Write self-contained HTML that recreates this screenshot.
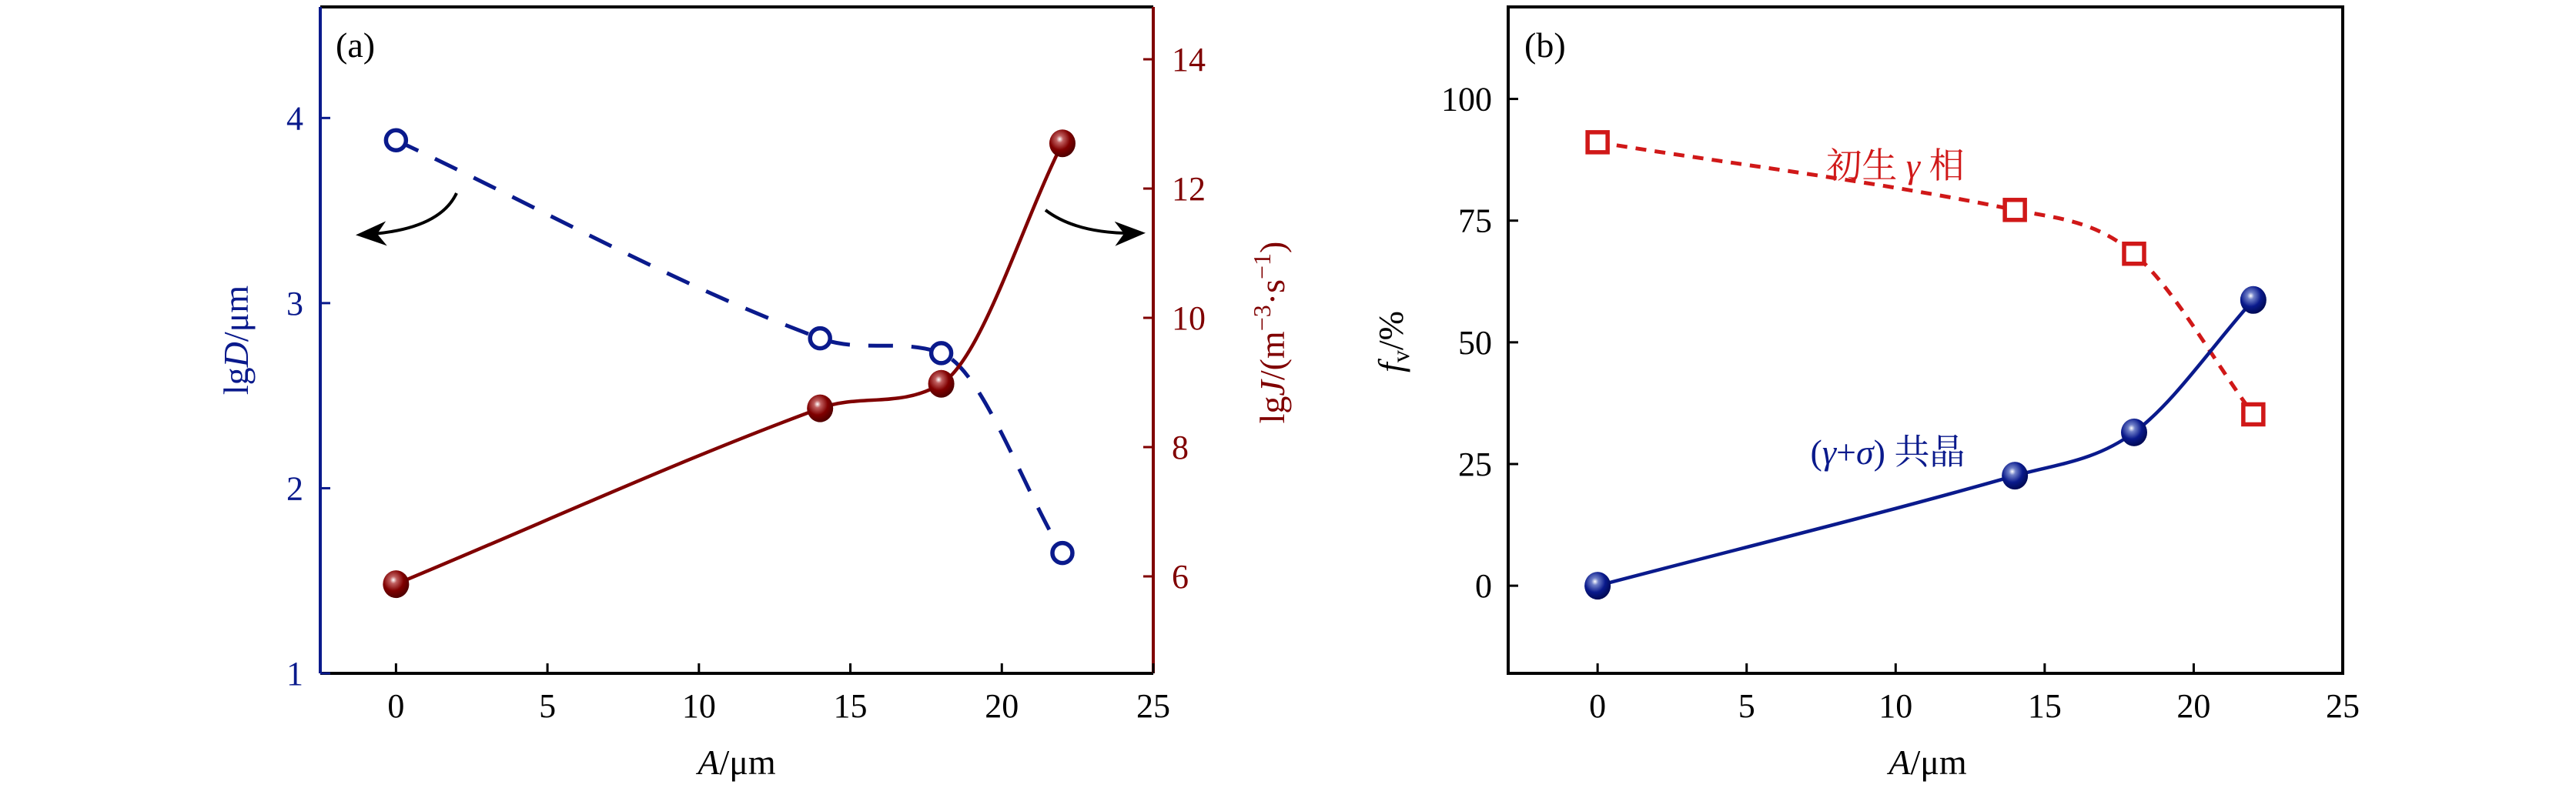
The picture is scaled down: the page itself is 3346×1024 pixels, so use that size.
<!DOCTYPE html>
<html><head><meta charset="utf-8"><style>
html,body{margin:0;padding:0;background:#fff;}
svg{display:block;font-family:"Liberation Serif","Noto Serif CJK SC",serif;}
</style></head><body>
<svg id="chart" width="3346" height="1024" viewBox="0 0 3346 1024" xmlns="http://www.w3.org/2000/svg">
<defs>
<radialGradient id="gRed" cx="0.4" cy="0.35" r="0.65"><stop offset="0" stop-color="#fff"/><stop offset="0.2" stop-color="#c06060"/><stop offset="0.6" stop-color="#800000"/><stop offset="1" stop-color="#500000"/></radialGradient>
<radialGradient id="gBlue" cx="0.4" cy="0.35" r="0.65"><stop offset="0" stop-color="#fff"/><stop offset="0.2" stop-color="#7080c8"/><stop offset="0.6" stop-color="#0a1a8c"/><stop offset="1" stop-color="#000a55"/></radialGradient>
<marker id="arr" markerWidth="10" markerHeight="8" refX="8" refY="4" orient="auto" markerUnits="strokeWidth"><path d="M0,0 L10,4 L0,8 L3,4 Z" fill="#000"/></marker>
</defs>
<g id="root"></g>
</svg>
<script>
const xValues = [0, 14, 18, 22];
const lgD = [3.88, 2.81, 2.73, 1.65];
const lgJ = [5.88, 8.6, 8.98, 12.7];
const primaryGamma = [91.1, 77.2, 68.2, 35.2];
const eutectic = [0, 22.6, 31.5, 58.7];
const xTicks = [0, 5, 10, 15, 20, 25];
const dTicks = [1, 2, 3, 4];
const jTicks = [6, 8, 10, 12, 14];
const fTicks = [0, 25, 50, 75, 100];

const NS = "http://www.w3.org/2000/svg";
const root = document.getElementById('root');
function el(tag, attrs, parent, text) {
  const e = document.createElementNS(NS, tag);
  for (const k in attrs) e.setAttribute(k, attrs[k]);
  if (text !== undefined) e.textContent = text;
  (parent || root).appendChild(e);
  return e;
}
function lin(d0, d1, r0, r1) { return v => r0 + (v - d0) * (r1 - r0) / (d1 - d0); }
// monotone Hermite spline with length-weighted tangents
function smoothPath(pts) {
  const n = pts.length, dx = [], s = [], m = [];
  for (let i = 0; i < n - 1; i++) { dx[i] = pts[i+1][0] - pts[i][0]; s[i] = (pts[i+1][1] - pts[i][1]) / dx[i]; }
  m[0] = s[0]; m[n-1] = s[n-2];
  for (let i = 1; i < n - 1; i++) {
    if (s[i-1] * s[i] <= 0) { m[i] = 0; continue; }
    let v = (dx[i-1]*s[i-1] + dx[i]*s[i]) / (dx[i-1] + dx[i]);
    const lim = 3 * Math.min(Math.abs(s[i-1]), Math.abs(s[i]));
    if (Math.abs(v) > lim) v = Math.sign(v) * lim;
    m[i] = v;
  }
  let d = `M${pts[0][0]},${pts[0][1]}`;
  for (let i = 0; i < n - 1; i++) {
    const h = dx[i] / 3;
    d += ` C${pts[i][0] + h},${pts[i][1] + m[i]*h} ${pts[i+1][0] - h},${pts[i+1][1] - m[i+1]*h} ${pts[i+1][0]},${pts[i+1][1]}`;
  }
  return d;
}
const BLUE = '#0a1a8c', DRED = '#800000', RED = '#d01818';
const FS = 44;

// ---------- Panel (a) ----------
const aL = 416, aR = 1498, aT = 9, aB = 875;
const xa = lin(-2.5, 25, aL, aR);
const yD = lin(1, 4.6, aB, aT);
const yJ = lin(4.5, 14.81, aB, aT);
const ga = el('g', {});


let l;
l = el('line', {x1: aL, y1: aT, x2: aR, y2: aT, stroke: '#000', 'stroke-width': 4}, ga);
l = el('line', {x1: aL, y1: aB, x2: aR, y2: aB, stroke: '#000', 'stroke-width': 4}, ga);
 
l = el('line', {x1: aL, y1: aT, x2: aL, y2: aB, stroke: BLUE, 'stroke-width': 4}, ga);
 
l = el('line', {x1: aR, y1: aT, x2: aR, y2: aB, stroke: DRED, 'stroke-width': 4}, ga);
 
xTicks.forEach(v => {
  el('line', {x1: xa(v), y1: aB, x2: xa(v), y2: aB - 13, stroke: '#000', 'stroke-width': 3}, ga);
  const t = el('text', {x: xa(v), y: 932, 'font-size': FS, 'text-anchor': 'middle', fill: '#000'}, ga, v);
   
});
dTicks.forEach(v => {
  el('line', {x1: aL, y1: yD(v), x2: aL + 13, y2: yD(v), stroke: BLUE, 'stroke-width': 3}, ga);
  const t = el('text', {x: 394, y: yD(v) + 15, 'font-size': FS, 'text-anchor': 'end', fill: BLUE}, ga, v);
   
});
jTicks.forEach(v => {
  el('line', {x1: aR, y1: yJ(v), x2: aR - 13, y2: yJ(v), stroke: DRED, 'stroke-width': 3}, ga);
  const t = el('text', {x: 1522, y: yJ(v) + 15, 'font-size': FS, 'text-anchor': 'start', fill: DRED}, ga, v);
   
});
let t;
t = el('text', {x: 957, y: 1006, 'font-size': 46, 'text-anchor': 'middle'}, ga);
t.innerHTML = '<tspan font-style="italic">A</tspan>/μm';
 
t = el('text', {x: 0, y: 0, 'font-size': 46, 'text-anchor': 'middle', fill: BLUE, transform: 'translate(322,442) rotate(-90)'}, ga);
t.innerHTML = 'lg<tspan font-style="italic">D</tspan>/μm';
 
t = el('text', {x: 0, y: 0, 'font-size': 46, 'text-anchor': 'middle', fill: DRED, transform: 'translate(1668,432) rotate(-90)'}, ga);
t.innerHTML = 'lg<tspan font-style="italic">J</tspan>/(m<tspan dy="-18" font-size="32">−3</tspan><tspan dy="18">·s</tspan><tspan dy="-18" font-size="32">−1</tspan><tspan dy="18">)</tspan>';
 
t = el('text', {x: 436, y: 74, 'font-size': 46}, ga, '(a)');
 
l = el('path', {d: 'M593,251 Q570,300 470,305', fill: 'none', stroke: '#000', 'stroke-width': 4, 'marker-end': 'url(#arr)'}, ga);
 
l = el('path', {d: 'M1358,273 Q1400,305 1480,303', fill: 'none', stroke: '#000', 'stroke-width': 4, 'marker-end': 'url(#arr)'}, ga);
 
const dPts = xValues.map((x, i) => [xa(x), yD(lgD[i])]);
l = el('path', {d: smoothPath(dPts), fill: 'none', stroke: BLUE, 'stroke-width': 5, 'stroke-dasharray': '32,24'}, ga);
 
const jPts = xValues.map((x, i) => [xa(x), yJ(lgJ[i])]);
l = el('path', {d: smoothPath(jPts), fill: 'none', stroke: DRED, 'stroke-width': 4.5}, ga);
 
dPts.forEach(p => {
  const c = el('circle', {cx: p[0], cy: p[1], r: 13, fill: '#fff', stroke: BLUE, 'stroke-width': 5.5}, ga);
   
});
jPts.forEach(p => {
  const c = el('ellipse', {cx: p[0], cy: p[1], rx: 17, ry: 18, fill: 'url(#gRed)'}, ga);
   
});

// ---------- Panel (b) ----------
const bL = 1959, bR = 3043, bT = 9, bB = 875;
const xb = lin(-3, 25, bL, bR);
const yF = lin(-18, 118.9, bB, bT);
const gb = el('g', {});


l = el('rect', {x: bL, y: bT, width: bR - bL, height: bB - bT, fill: 'none', stroke: '#000', 'stroke-width': 4}, gb);
 
xTicks.forEach(v => {
  if (v < 25) el('line', {x1: xb(v), y1: bB, x2: xb(v), y2: bB - 13, stroke: '#000', 'stroke-width': 3}, gb);
  const t = el('text', {x: xb(v), y: 932, 'font-size': FS, 'text-anchor': 'middle'}, gb, v);
   
});
fTicks.forEach(v => {
  el('line', {x1: bL, y1: yF(v), x2: bL + 13, y2: yF(v), stroke: '#000', 'stroke-width': 3}, gb);
  const t = el('text', {x: 1938, y: yF(v) + 15, 'font-size': FS, 'text-anchor': 'end'}, gb, v);
   
});
t = el('text', {x: 2504, y: 1006, 'font-size': 46, 'text-anchor': 'middle'}, gb);
t.innerHTML = '<tspan font-style="italic">A</tspan>/μm';
 
t = el('text', {x: 0, y: 0, 'font-size': 46, 'text-anchor': 'middle', transform: 'translate(1822,444) rotate(-90)'}, gb);
t.innerHTML = '<tspan font-style="italic">f</tspan><tspan font-size="32" dy="8">v</tspan><tspan dy="-8">/%</tspan>';
 
t = el('text', {x: 1980, y: 74, 'font-size': 46}, gb, '(b)');
 
const rPts = xValues.map((x, i) => [xb(x), yF(primaryGamma[i])]);
l = el('path', {d: smoothPath(rPts), fill: 'none', stroke: RED, 'stroke-width': 5, 'stroke-dasharray': '14,11'}, gb);
 
const bPts = xValues.map((x, i) => [xb(x), yF(eutectic[i])]);
l = el('path', {d: smoothPath(bPts), fill: 'none', stroke: BLUE, 'stroke-width': 4.5}, gb);
 
rPts.forEach(p => {
  const r = el('rect', {x: p[0] - 13, y: p[1] - 13, width: 26, height: 26, fill: '#fff', stroke: RED, 'stroke-width': 5.5}, gb);
   
});
bPts.forEach(p => {
  const c = el('ellipse', {cx: p[0], cy: p[1], rx: 17, ry: 18, fill: 'url(#gBlue)'}, gb);
   
});
t = el('text', {x: 2462, y: 231, 'font-size': 46, 'text-anchor': 'middle', fill: RED}, gb);
t.innerHTML = '初生 <tspan font-style="italic">γ</tspan> 相';
 
t = el('text', {x: 2452, y: 603, 'font-size': 46, 'text-anchor': 'middle', fill: BLUE}, gb);
t.innerHTML = '(<tspan font-style="italic">γ</tspan>+<tspan font-style="italic">σ</tspan>) 共晶';
 
</script>
</body></html>
